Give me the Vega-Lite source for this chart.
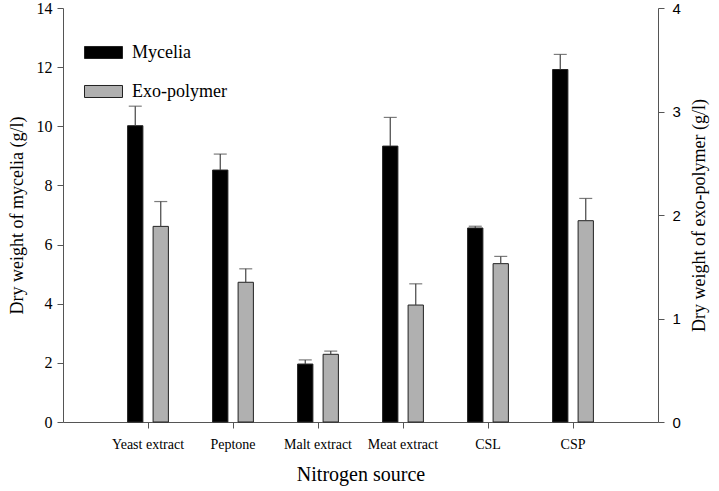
{
  "$schema": "https://vega.github.io/schema/vega-lite/v6.json",
  "autosize": {"type": "none"},
  "padding": {"left": 63, "top": 8, "right": 61, "bottom": 69},
  "width": 595,
  "height": 414,
  "background": "white",
  "config": {
    "view": {"stroke": null},
    "axis": {"domainColor": "#555", "tickColor": "#555", "grid": false, "labelColor": "#000", "titleColor": "#000", "titleFontWeight": "normal"}
  },
  "data": {
    "values": [
      {"source": "Yeast extract", "series": "Mycelia", "value": 10.02, "upper": 10.68},
      {"source": "Peptone", "series": "Mycelia", "value": 8.52, "upper": 9.06},
      {"source": "Malt extract", "series": "Mycelia", "value": 1.96, "upper": 2.1},
      {"source": "Meat extract", "series": "Mycelia", "value": 9.33, "upper": 10.3},
      {"source": "CSL", "series": "Mycelia", "value": 6.56, "upper": 6.62},
      {"source": "CSP", "series": "Mycelia", "value": 11.92, "upper": 12.43},
      {"source": "Yeast extract", "series": "Exo-polymer", "value": 1.89, "upper": 2.13},
      {"source": "Peptone", "series": "Exo-polymer", "value": 1.35, "upper": 1.48},
      {"source": "Malt extract", "series": "Exo-polymer", "value": 0.654, "upper": 0.685},
      {"source": "Meat extract", "series": "Exo-polymer", "value": 1.13, "upper": 1.335},
      {"source": "CSL", "series": "Exo-polymer", "value": 1.53, "upper": 1.6},
      {"source": "CSP", "series": "Exo-polymer", "value": 1.945, "upper": 2.16}
    ]
  },
  "encoding": {
    "x": {
      "field": "source", "type": "nominal", "sort": null,
      "scale": {"domain": ["Yeast extract", "Peptone", "Malt extract", "Meat extract", "CSL", "CSP"], "paddingInner": 0.52, "paddingOuter": 0.76},
      "axis": {"title": "Nitrogen source", "labelAngle": 0, "labelFont": "Liberation Serif", "labelFontSize": 14, "titleFont": "Liberation Serif", "titleFontSize": 20, "tickSize": 6, "labelPadding": 9, "titlePadding": 13, "domainColor": "#555"}
    },
    "xOffset": {
      "field": "series", "type": "nominal",
      "scale": {"domain": ["Mycelia", "Exo-polymer"], "paddingInner": 0.4, "paddingOuter": 0}
    }
  },
  "layer": [
    {
      "transform": [{"filter": "datum.series === 'Mycelia'"}],
      "encoding": {
        "y": {
          "field": "value", "type": "quantitative",
          "scale": {"domain": [0, 14], "nice": false},
          "axis": {"title": "Dry weight of mycelia (g/l)", "values": [0, 2, 4, 6, 8, 10, 12, 14], "labelFont": "Liberation Serif", "labelFontSize": 16, "titleFont": "Liberation Serif", "titleFontSize": 18, "tickSize": 6, "labelPadding": 5, "titlePadding": 10}
        }
      },
      "layer": [
        {
          "mark": {"type": "bar", "stroke": "#222", "strokeWidth": 1},
          "encoding": {
            "color": {
              "field": "series", "type": "nominal",
              "scale": {"domain": ["Mycelia", "Exo-polymer"], "range": ["#000000", "#b0b0b0"]},
              "legend": {
                "title": null, "orient": "none", "legendX": 21, "legendY": 25,
                "symbolType": "M-1,-0.316H1V0.316H-1Z", "symbolSize": 1444,
                "symbolStrokeColor": "#333", "symbolStrokeWidth": 1,
                "labelFont": "Liberation Serif", "labelFontSize": 18, "labelColor": "#000",
                "rowPadding": 10, "labelOffset": 9, "padding": 0
              }
            }
          }
        },
        {
          "mark": {"type": "rule", "color": "#444", "strokeWidth": 1.2},
          "encoding": {"y2": {"field": "upper"}}
        },
        {
          "mark": {"type": "tick", "color": "#444", "thickness": 1.2, "size": 13},
          "encoding": {"y": {"field": "upper", "type": "quantitative"}}
        }
      ]
    },
    {
      "transform": [{"filter": "datum.series === 'Exo-polymer'"}],
      "encoding": {
        "y": {
          "field": "value", "type": "quantitative",
          "scale": {"domain": [0, 4], "nice": false},
          "axis": {"orient": "right", "title": "Dry weight of exo-polymer (g/l)", "titleAngle": 270, "titleBaseline": "bottom", "values": [0, 1, 2, 3, 4], "labelFont": "Liberation Sans", "labelFontSize": 15, "titleFont": "Liberation Serif", "titleFontSize": 18, "tickSize": 6, "labelPadding": 8, "titlePadding": 28}
        }
      },
      "layer": [
        {
          "mark": {"type": "bar", "stroke": "#222", "strokeWidth": 1},
          "encoding": {
            "color": {"field": "series", "type": "nominal", "scale": {"domain": ["Mycelia", "Exo-polymer"], "range": ["#000000", "#b0b0b0"]}}
          }
        },
        {
          "mark": {"type": "rule", "color": "#444", "strokeWidth": 1.2},
          "encoding": {"y2": {"field": "upper"}}
        },
        {
          "mark": {"type": "tick", "color": "#444", "thickness": 1.2, "size": 13},
          "encoding": {"y": {"field": "upper", "type": "quantitative"}}
        }
      ]
    }
  ],
  "resolve": {"scale": {"y": "independent"}}
}
